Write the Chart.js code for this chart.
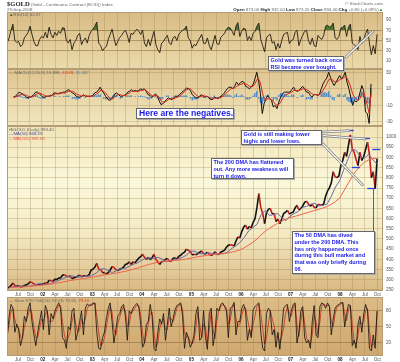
<!DOCTYPE html>
<html>
<head>
<meta charset="utf-8">
<title>$GOLD</title>
<script src="https://cdn.jsdelivr.net/npm/chart.js@4/dist/chart.umd.min.js"></script>
<style>
  body { margin: 0; width: 400px; height: 362px; position: relative; overflow: hidden; background: #fff;
         font-family: "Liberation Sans", Arial, sans-serif; }
  canvas { position: absolute; left: 0; }
  .txt { position: absolute; white-space: nowrap; font-size: 4.4px; line-height: 4.6px; color: #666; z-index: 3; }
  .txt b { color: #222; }
  .note { position: absolute; box-sizing: border-box; background: #fff; border: 1px solid #666;
          box-shadow: 1px 1px 0 #a9a9a9; color: #1a1ae6; font-weight: bold; font-size: 5.5px;
          line-height: 6.8px; padding: 0 1px 0 1.5px; white-space: nowrap; z-index: 4; }
</style>
</head>
<body>
<canvas id="rsi" width="400" height="57" style="top:12px"></canvas>
<canvas id="macd" width="400" height="57" style="top:69px"></canvas>
<canvas id="price" width="400" height="171" style="top:126px"></canvas>
<canvas id="sto" width="400" height="65" style="top:297px"></canvas>
<canvas id="callouts" width="400" height="362" style="top:0;z-index:2"></canvas>

<!-- header -->
<div class="txt" style="left:7px;top:0;line-height:7px"><b style="font:bold 6.6px 'Liberation Serif',serif">$GOLD</b> (Gold - Continuous Contract (EOD)) Index</div>
<div class="txt" style="left:7px;top:7.5px">29-Sep-2008</div>
<div class="txt" style="right:17px;top:2px">&copy; StockCharts.com</div>
<div class="txt" style="right:17px;top:7.5px"><b>Open</b> 873.00 <b>High</b> 932.00 <b>Low</b> 873.20 <b>Close</b> 894.40 <b>Chg</b> +0.80 (+0.09%)<span style="color:#2a9a2a">&#9650;</span></div>

<!-- panel legends -->
<div class="txt" style="left:9px;top:13px"><span style="color:#3a6a2a">&#9650;</span>RSI(14) 62.37</div>
<div class="txt" style="left:9px;top:70.5px">&mdash; MACD(12,26,9) 15.886, <span style="color:#e03020">4.539</span>, <span style="color:#3a78c0">11.347</span></div>
<div class="txt" style="left:9px;top:127.5px">&#9642;$GOLD (Daily) 894.40<br><span style="color:#4a4aa0">&mdash;MA(50) 868.29</span><br><span style="color:#f05a40">&mdash;MA(200) 895.65</span></div>
<div class="txt" style="left:9px;top:298.5px">&mdash; Slow STO %K(14) %D(3) 79.65, <span style="color:#e03020">79.16</span></div>

<!-- annotations -->
<div class="note" style="left:268px;top:56px;width:76px;height:14.5px">Gold was turned back once<br>RSI became over bought.</div>
<div class="note" style="left:136px;top:108px;width:98px;height:11px;font-size:8.6px;line-height:9px;padding-left:2px;font-weight:600">Here are the negatives.</div>
<div class="note" style="left:241px;top:130px;width:81px;height:14.5px">Gold is still making lower<br>highs and lower lows.</div>
<div class="note" style="left:211px;top:158px;width:83px;height:21px">The 200 DMA has flattened<br>out. Any more weakness will<br>turn it down.</div>
<div class="note" style="left:292px;top:231px;width:83px;height:43px">The 50 DMA has dived<br>under the 200 DMA. This<br>has only happened once<br>during this bull market and<br>that was only briefly during<br>06.</div>

<script>
// ---- time axis ----
const X_MIN = 2001.28, X_MAX = 2008.865;
const FIRST_TICK = 2001.5;               // Jul 2001, one label per quarter
const tickLabels = ['Jul','Oct','02','Apr','Jul','Oct','03','Apr','Jul','Oct','04','Apr','Jul','Oct',
                    '05','Apr','Jul','Oct','06','Apr','Jul','Oct','07','Apr','Jul','Oct','08','Apr','Jul','Oct'];

// bi-weekly samples from mid Apr 2001 to 29 Sep 2008
const START = 2001.284, STEP = 1 / 26;
// monthly samples for the moving averages
const MA_START = 2001.323, MA_STEP = 1 / 12;

// ---- price ($GOLD close) ----
const priceValues = [
  260,263,272,284,272,270,271,266,267,272,275,280,290,286,280,276,274,277,                 // 2001
  278,279,285,283,298,295,293,302,302,308,310,322,325,318,315,318,305,310,312,318,323,315,318,320,318,325, // 2002
  347,352,362,380,352,350,335,335,328,335,348,365,360,350,345,352,355,362,375,378,388,375,388,383,395,406, // 2003
  413,425,410,400,410,398,408,425,400,387,375,390,390,400,405,392,390,405,408,402,415,420,430,435,450,445, // 2004
  440,422,425,423,428,435,442,428,428,435,425,418,425,438,425,424,435,440,445,460,470,472,470,465,490,510, // 2005
  505,535,558,568,548,562,555,582,600,655,722,655,625,575,630,645,650,622,625,585,598,575,598,625,632,640, // 2006
  622,628,632,652,665,642,650,662,680,685,672,660,670,655,652,670,668,665,672,710,735,750,775,830,805,800, // 2007
  810,860,885,925,905,960,1010,940,925,890,860,925,885,905,940,975,915,800,830,745,894                   // 2008
];
const ma50Values = [
  262,266,268,270,268,268,273,280,279,
  277,281,289,297,305,315,320,315,313,316,318,320,
  332,350,355,345,335,345,355,355,365,376,382,395,
  405,408,405,410,402,390,392,398,403,410,422,440,
  440,428,428,432,430,425,428,428,438,455,468,485,
  510,540,556,572,620,640,615,620,625,605,590,612,
  625,635,655,660,670,675,662,665,672,710,755,785,
  840,890,940,935,905,895,915,890,868
];
const ma200Values = [
  262,263,264,265,266,268,270,272,274,
  276,279,282,285,289,293,297,300,303,306,309,312,
  316,320,324,327,330,333,337,341,346,351,357,364,
  370,376,381,386,389,391,393,395,397,399,402,406,
  410,414,417,420,423,425,427,429,432,436,441,447,
  458,470,484,500,520,538,552,565,577,588,597,605,
  610,616,622,628,634,640,646,652,660,670,684,700,
  735,770,805,835,858,876,888,894,896
];
const priceTicks = [250,300,350,400,450,500,550,600,650,700,750,800,850,900,950,1000];
// swing highs / lows marked in blue
const markDates  = [2008.196, 2008.52, 2008.73, 2008.317, 2008.63];
const markValues = [1033, 995, 941, 853, 750];

// ---- RSI(14) ----
const rsiValues = [
  45,55,70,82,50,46,48,38,42,55,60,66,78,62,48,40,40,52,
  58,55,66,55,76,62,55,66,60,68,64,75,74,50,45,52,32,45,50,60,64,42,50,55,45,60,
  68,72,78,86,45,40,30,35,38,52,62,72,55,40,48,56,60,66,70,60,46,64,62,68,72,68,
  62,70,45,38,52,40,55,68,42,32,26,45,48,55,60,45,42,55,58,50,62,66,70,72,78,55,
  50,35,42,40,48,55,62,45,44,55,40,32,45,60,44,42,56,60,64,72,76,74,68,60,78,85,
  58,68,74,72,50,58,50,64,68,78,84,52,40,28,55,60,62,45,48,32,44,35,50,62,64,66,
  44,50,52,66,70,40,52,60,68,70,50,42,55,40,38,60,55,52,60,78,80,76,78,84,55,52,
  58,74,76,80,58,76,82,45,42,38,32,58,44,52,64,72,45,22,40,24,62
];
const rsiTicks = [10,30,50,70,90];

// ---- MACD(12,26,9) ----
const macdValues = [
  0,1,3,6,5,3,2,0,-1,0,1,3,6,6,4,2,0,0,
  1,1,2,2,5,5,4,5,5,6,6,8,9,7,5,4,1,0,0,1,3,1,1,1,1,2,
  5,6,8,12,8,5,1,-2,-4,-3,0,4,5,3,1,1,2,3,6,7,9,7,8,7,8,10,
  9,10,7,3,2,0,1,4,1,-4,-9,-8,-6,-3,-1,-2,-3,-1,1,1,3,5,7,9,11,10,
  8,3,1,-1,-1,1,3,1,0,1,-1,-3,-3,0,-1,-2,0,2,4,7,10,12,12,10,13,18,
  15,17,19,18,13,12,10,12,15,22,30,20,4,-20,-8,-2,2,-2,-4,-12,-10,-14,-6,0,4,6,
  6,6,6,9,12,8,7,8,11,13,10,6,6,2,0,3,3,2,3,10,16,20,23,30,24,18,
  14,18,22,26,22,25,30,18,10,0,-10,-4,-6,-3,5,14,8,-18,-20,-32,16
];
const signalValues = [
  0,0,1,2,3,4,3,2,1,0,0,1,3,4,5,4,3,2,
  1,1,1,2,3,4,4,4,5,5,5,6,7,7,7,6,4,3,2,1,2,2,1,1,1,1,
  2,4,5,8,8,7,5,2,-1,-2,-2,0,2,3,3,2,2,2,4,5,7,7,7,7,7,8,
  8,9,8,6,4,2,1,2,2,0,-4,-6,-6,-5,-3,-2,-2,-2,-1,0,1,3,5,7,9,10,
  10,8,5,3,1,0,1,2,1,1,0,-1,-2,-2,-1,-1,-1,0,2,4,6,8,10,11,11,13,
  14,15,16,17,16,15,13,13,13,16,21,22,17,6,-2,-4,-2,-2,-3,-6,-8,-10,-9,-6,-2,2,
  3,4,5,6,8,8,8,8,9,10,10,9,8,6,4,3,3,3,3,5,8,12,16,21,22,21,
  19,18,19,21,22,23,25,23,18,12,4,0,-3,-4,-2,3,6,-2,-10,-20,5
];
const histValues = [
  0,1,2,3,2,-1,-1,-2,-2,0,1,2,3,2,-1,-2,-2,-2,
  0,0,1,0,2,1,0,1,0,1,1,2,2,0,-2,-2,-3,-3,-2,0,1,-1,0,0,0,1,
  3,2,3,3,0,-2,-3,-3,-3,-1,2,3,3,0,-2,-1,0,1,2,2,2,0,1,0,1,2,
  1,1,-1,-3,-2,-2,0,2,-1,-3,-4,-2,0,2,2,0,-1,1,2,1,2,2,2,2,2,0,
  -2,-4,-3,-3,-2,1,2,-1,-1,0,-1,-2,-1,2,0,-1,1,2,2,3,3,3,2,-1,2,4,
  1,2,3,1,-3,-3,-3,-1,2,5,7,-2,-7,-9,-5,2,3,0,-1,-5,-2,-4,3,5,5,4,
  3,2,1,3,3,0,-1,0,2,3,0,-3,-2,-3,-3,0,0,-1,0,4,6,6,5,7,2,-3,
  -4,0,3,4,0,2,4,-4,-6,-7,-8,-4,-3,1,5,7,2,-9,-7,-8,11
];
const macdTicks = [-30,-20,-10,0,10,20,30];

// ---- Slow Stochastic %K(14) %D(3) ----
const stoKValues = [
  30,70,92,85,40,55,45,15,30,70,60,85,95,60,35,15,40,60,
  80,45,90,80,35,75,65,80,88,95,85,30,25,10,50,45,80,85,25,40,60,80,35,85,93,90,
  92,94,95,40,10,8,30,40,65,85,95,60,20,45,70,75,88,92,70,25,80,75,85,90,94,88,
  55,12,20,55,60,92,70,10,5,40,65,55,75,25,55,85,50,65,82,90,92,95,70,10,40,30,
  12,20,35,75,88,25,30,80,30,8,75,85,15,40,85,80,92,95,88,80,30,85,88,96,35,60,
  60,85,92,80,25,45,30,82,88,92,95,40,10,5,75,85,80,35,45,12,40,8,45,85,90,92,
  60,80,92,95,20,40,80,88,30,20,25,10,60,90,35,30,88,95,92,85,95,88,35,65,85,90,
  92,95,96,50,75,92,90,15,25,10,55,70,40,75,92,80,10,5,35,10,80
];
const stoDValues = [
  35,55,78,85,65,50,48,32,28,50,62,72,85,75,50,30,30,48,
  65,60,72,80,60,60,62,72,82,90,90,60,35,20,30,40,60,75,55,40,45,65,55,65,85,90,
  90,92,94,70,40,15,18,30,50,70,88,78,45,35,55,68,80,88,80,50,55,75,80,85,90,90,
  72,38,20,35,55,75,78,40,12,20,48,58,65,45,45,68,65,60,72,85,90,93,82,40,30,32,
  22,18,25,50,78,55,30,55,50,20,45,78,45,28,62,80,88,92,90,85,55,62,85,92,65,50,
  55,70,85,86,65,48,35,55,72,88,92,75,48,18,30,55,80,65,52,30,32,20,32,48,75,88,
  75,70,85,92,55,32,60,82,58,28,24,18,35,72,60,35,60,90,93,90,90,90,60,50,75,87,
  90,93,95,75,62,82,90,55,22,18,35,60,55,60,80,85,45,12,18,20,79
];
const stoTicks = [20,50,80];

// ---- helpers ----
const series = (arr, s0, ds) => arr.map((v, i) => ({ x: s0 + i * ds, y: v }));
const FONT = { family: '"Liberation Sans", Arial, sans-serif', size: 4.6 };
const GRID = 'rgba(150,118,66,0.28)';

function xScale(showLabels) {
  return {
    type: 'linear', min: X_MIN, max: X_MAX, bounds: 'data',
    afterBuildTicks: s => { s.ticks = tickLabels.map((_, i) => ({ value: FIRST_TICK + i * 0.25 })); },
    afterFit: s => { s.height = showLabels ? 6 : 0; s.paddingLeft = 0; s.paddingRight = 0; },
    grid: { color: GRID, drawTicks: false },
    border: { display: false },
    ticks: {
      display: showLabels, autoSkip: false, maxRotation: 0, padding: 1,
      color: c => /^\d/.test(tickLabels[c.index]) ? '#222' : '#555',
      font: c => ({ ...FONT, weight: /^\d/.test(tickLabels[c.index]) ? 'bold' : 'normal' }),
      callback: (v, i) => tickLabels[i]
    }
  };
}

function yScale(min, max, ticks, gridColor) {
  return {
    position: 'right', min, max, bounds: 'data',
    afterBuildTicks: s => { s.ticks = ticks.map(v => ({ value: v })); },
    afterFit: s => { s.width = 17; s.paddingTop = 0; s.paddingBottom = 0; },
    grid: { color: gridColor || GRID, drawTicks: false },
    border: { display: false },
    ticks: { color: '#555', font: FONT, padding: 3, callback: v => String(v) }
  };
}

// tan gradient behind each panel + thin frame
const panelBg = {
  id: 'panelBg',
  beforeDraw(chart, args, opts) {
    const { ctx, chartArea: a } = chart;
    const g = ctx.createLinearGradient(0, a.top, 0, a.bottom);
    opts.stops.forEach(([p, c]) => g.addColorStop(p, c));
    ctx.save();
    ctx.fillStyle = g;
    ctx.fillRect(a.left, a.top, a.width, a.height);
    ctx.restore();
  },
  afterDraw(chart) {
    const { ctx, chartArea: a } = chart;
    ctx.save();
    ctx.strokeStyle = '#b39d74';
    ctx.lineWidth = 1;
    ctx.strokeRect(a.left + 0.5, a.top + 0.5, a.width - 1, a.height - 1);
    ctx.restore();
  }
};

const swingMarks = {
  id: 'swingMarks',
  afterDatasetsDraw(chart) {
    const { ctx, scales: { x, y } } = chart;
    ctx.save();
    ctx.strokeStyle = '#2a40d8';
    ctx.lineWidth = 1.3;
    markDates.forEach((d, i) => {
      const px = x.getPixelForValue(d);
      const py = Math.round(y.getPixelForValue(markValues[i])) + 0.5;
      ctx.beginPath(); ctx.moveTo(px - 4, py); ctx.lineTo(px + 4, py); ctx.stroke();
    });
    ctx.restore();
  }
};

function baseOptions(stops, yOpts, showX) {
  return {
    responsive: false, animation: false, devicePixelRatio: 1, events: [],
    layout: { padding: { left: 7, right: 0, top: 0, bottom: 0 } },
    plugins: { legend: { display: false }, tooltip: { enabled: false }, panelBg: { stops } },
    elements: { point: { radius: 0 }, line: { tension: 0 } },
    scales: { x: xScale(showX), y: yOpts }
  };
}

const line = (data, color, width, order) =>
  ({ type: 'line', data, borderColor: color, borderWidth: width, pointRadius: 0, order });

// RSI panel
const rsiChart = new Chart(document.getElementById('rsi'), {
  type: 'line',
  data: { datasets: [{
    ...line(series(rsiValues, START, STEP), 'rgba(35,28,18,0.9)', 1, 1),
    fill: { target: { value: 70 }, above: '#4a7636', below: 'rgba(0,0,0,0)' }
  }] },
  options: baseOptions([[0, '#d9bb85'], [1, '#eadaab']],
    yScale(-5.6, 105.6, rsiTicks, c => [30, 50, 70].includes(c.tick.value) ? 'rgba(120,88,45,0.45)' : 'rgba(0,0,0,0)'), false),
  plugins: [panelBg]
});

// MACD panel
const macdChart = new Chart(document.getElementById('macd'), {
  type: 'line',
  data: { datasets: [
    { type: 'bar', data: series(histValues, START, STEP), backgroundColor: '#4a88c8',
      barPercentage: 0.75, categoryPercentage: 1, order: 3 },
    line(series(macdValues, START, STEP), '#111', 1, 2),
    line(series(signalValues, START, STEP), '#d8261c', 1, 1)
  ] },
  options: baseOptions([[0, '#dfc48f'], [1, '#f2e8c0']], yScale(-35, 34, macdTicks), false),
  plugins: [panelBg]
});

// price panel
const priceChart = new Chart(document.getElementById('price'), {
  type: 'line',
  data: { datasets: [
    { ...line(series(priceValues, START, STEP), '#111', 1.6, 3),
      segment: { borderColor: c => c.p1.parsed.y < c.p0.parsed.y ? '#c81e1e' : '#111' } },
    line(series(ma50Values, MA_START, MA_STEP), '#6a6aa8', 1, 2),
    line(series(ma200Values, MA_START, MA_STEP), '#f0624a', 1, 1)
  ] },
  options: baseOptions([[0, '#f1e4b8'], [0.35, '#faf8da'], [0.65, '#f3eac4'], [1, '#d9b982']],
    yScale(245, 1054, priceTicks), true),
  plugins: [panelBg, swingMarks]
});

// stochastic panel
const stoChart = new Chart(document.getElementById('sto'), {
  type: 'line',
  data: { datasets: [
    line(series(stoKValues, START, STEP), 'rgba(20,16,12,0.9)', 0.9, 1),
    line(series(stoDValues, START, STEP), 'rgba(190,40,28,0.85)', 0.9, 2)
  ] },
  options: baseOptions([[0, '#dcbc86'], [1, '#cfa870']],
    yScale(-4.4, 106, stoTicks, c => 'rgba(120,88,45,0.45)'), true),
  plugins: [panelBg]
});

// ---- callout lines from the note boxes ----
const ov = document.getElementById('callouts').getContext('2d');
function at(chart, top, xv, yv) {
  return [chart.scales.x.getPixelForValue(xv), top + chart.scales.y.getPixelForValue(yv)];
}
function pointer(from, to) {
  ov.save();
  ov.lineCap = 'round';
  ov.beginPath(); ov.moveTo(from[0], from[1]); ov.lineTo(to[0], to[1]);
  ov.strokeStyle = '#7d7d7d'; ov.lineWidth = 2.6; ov.stroke();
  ov.strokeStyle = '#fff'; ov.lineWidth = 1.1; ov.stroke();
  ov.restore();
}
pointer([346, 57], at(rsiChart, 12, 2008.66, 68));
pointer([322, 132], at(priceChart, 126, 2008.18, 1031));
pointer([322, 135.5], at(priceChart, 126, 2008.50, 990));
pointer([322, 143], at(priceChart, 126, 2008.45, 765));
(() => {
  const p = at(priceChart, 126, 2008.67, 748);
  ov.strokeStyle = '#666'; ov.lineWidth = 1;
  ov.beginPath(); ov.moveTo(Math.round(p[0]) + 0.5, p[1]); ov.lineTo(Math.round(p[0]) + 0.5, 231); ov.stroke();
})();
</script>
</body>
</html>
